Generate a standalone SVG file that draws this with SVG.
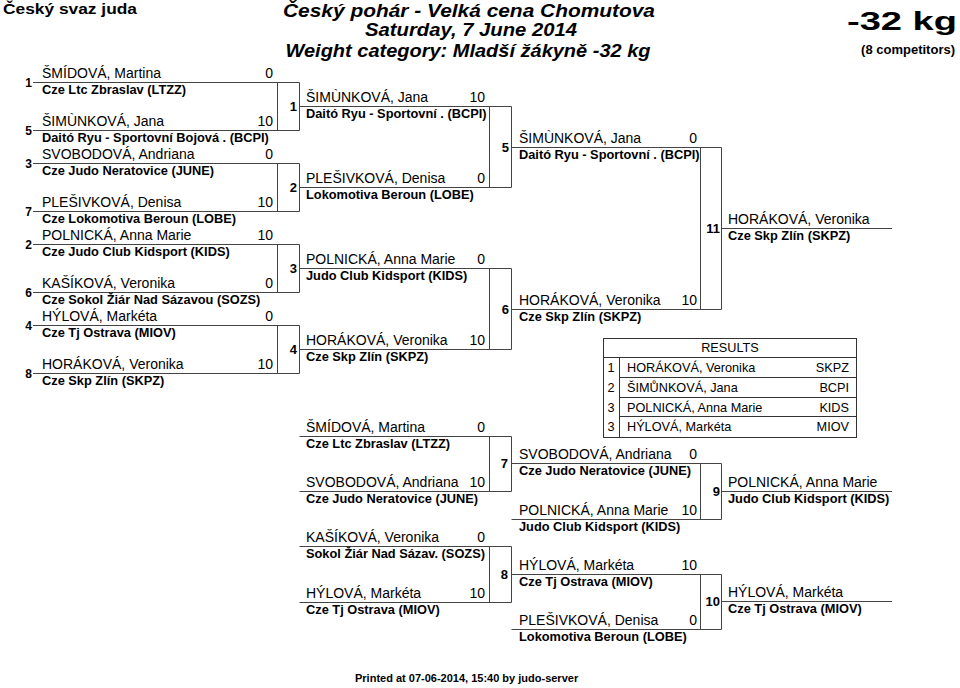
<svg xmlns="http://www.w3.org/2000/svg" width="960" height="688" viewBox="0 0 960 688">
<style>
text{font-family:"Liberation Sans",Arial,sans-serif;fill:#000}
.nm{font-size:14px}
.sc{font-size:14px;text-anchor:end}
.cl{font-size:12.8px;font-weight:bold}
.sd{font-size:12px;font-weight:bold;text-anchor:end}
.mn{font-size:13px;font-weight:bold;text-anchor:end}
.hd{font-weight:bold;font-style:italic}
.rs{font-size:12.7px}
.ln{stroke:#444;stroke-width:1;fill:none}
.tb{stroke:#333;stroke-width:1;fill:none}
</style>
<rect width="960" height="688" fill="#fff"/>
<g id="header">
<text x="3" y="14" font-size="15" font-weight="bold" textLength="134" lengthAdjust="spacingAndGlyphs">Český svaz juda</text>
<text class="hd" x="469" y="17" font-size="19" text-anchor="middle" textLength="372" lengthAdjust="spacingAndGlyphs">Český pohár - Velká cena Chomutova</text>
<text class="hd" x="471" y="36" font-size="19" text-anchor="middle" textLength="212" lengthAdjust="spacingAndGlyphs">Saturday, 7 June 2014</text>
<text class="hd" x="468" y="57" font-size="19" text-anchor="middle" textLength="365" lengthAdjust="spacingAndGlyphs">Weight category: Mladší žákyně -32 kg</text>
<text x="847" y="30" font-size="26" font-weight="bold" textLength="110" lengthAdjust="spacingAndGlyphs">-32 kg</text>
<text x="955" y="54" font-size="13" font-weight="bold" text-anchor="end">(8 competitors)</text>
</g>
<g id="connectors">
<path class="ln" d="M33 82.5H299.5M33 130.5H299.5M33 163.5H299.5M33 211.5H299.5M33 244.5H299.5M33 292.5H299.5M33 325.5H299.5M33 373.5H299.5"/>
<path class="ln" d="M277.5 82.5V130.5M299.5 82.5V130.5M277.5 163.5V211.5M299.5 163.5V211.5M277.5 244.5V292.5M299.5 244.5V292.5M277.5 325.5V373.5M299.5 325.5V373.5"/>
<path class="ln" d="M299.5 106.5H511.5M299.5 187.5H511.5M299.5 268.5H511.5M299.5 349.5H511.5"/>
<path class="ln" d="M489.5 106.5V187.5M511.5 106.5V187.5M489.5 268.5V349.5M511.5 268.5V349.5"/>
<path class="ln" d="M511.5 147.5H721.5M511.5 309.5H721.5M700.5 147.5V309.5M721.5 147.5V309.5M721.5 228.5H892"/>
<path class="ln" d="M299.5 436.5H511.5M299.5 491.5H511.5M299.5 546.5H511.5M299.5 602.5H511.5"/>
<path class="ln" d="M489.5 436.5V491.5M511.5 436.5V491.5M489.5 546.5V602.5M511.5 546.5V602.5"/>
<path class="ln" d="M511.5 463.5H721.5M511.5 519.5H721.5M511.5 574.5H721.5M511.5 629.5H721.5"/>
<path class="ln" d="M700.5 463.5V519.5M721.5 463.5V519.5M700.5 574.5V629.5M721.5 574.5V629.5M721.5 491.5H892M721.5 601.5H892"/>
</g>
<g id="r1-1"><text class="sd" x="32" y="86.5">1</text><text class="nm" x="42" y="78">ŠMÍDOVÁ, Martina</text><text class="sc" x="273" y="78">0</text><text class="cl" x="42" y="94">Cze Ltc Zbraslav (LTZZ)</text></g>
<g id="r1-2"><text class="sd" x="32" y="134.5">5</text><text class="nm" x="42" y="126">ŠIMÙNKOVÁ, Jana</text><text class="sc" x="273" y="126">10</text><text class="cl" x="42" y="142">Daitó Ryu - Sportovní Bojová . (BCPI)</text></g>
<g id="r1-3"><text class="sd" x="32" y="167.5">3</text><text class="nm" x="42" y="159">SVOBODOVÁ, Andriana</text><text class="sc" x="273" y="159">0</text><text class="cl" x="42" y="175">Cze Judo Neratovice (JUNE)</text></g>
<g id="r1-4"><text class="sd" x="32" y="215.5">7</text><text class="nm" x="42" y="207">PLEŠIVKOVÁ, Denisa</text><text class="sc" x="273" y="207">10</text><text class="cl" x="42" y="223">Cze Lokomotiva Beroun (LOBE)</text></g>
<g id="r1-5"><text class="sd" x="32" y="248.5">2</text><text class="nm" x="42" y="240">POLNICKÁ, Anna Marie</text><text class="sc" x="273" y="240">10</text><text class="cl" x="42" y="256">Cze Judo Club Kidsport (KIDS)</text></g>
<g id="r1-6"><text class="sd" x="32" y="296.5">6</text><text class="nm" x="42" y="288">KAŠÍKOVÁ, Veronika</text><text class="sc" x="273" y="288">0</text><text class="cl" x="42" y="304">Cze Sokol Žiár Nad Sázavou (SOZS)</text></g>
<g id="r1-7"><text class="sd" x="32" y="329.5">4</text><text class="nm" x="42" y="321">HÝLOVÁ, Markéta</text><text class="sc" x="273" y="321">0</text><text class="cl" x="42" y="337">Cze Tj Ostrava (MIOV)</text></g>
<g id="r1-8"><text class="sd" x="32" y="377.5">8</text><text class="nm" x="42" y="369">HORÁKOVÁ, Veronika</text><text class="sc" x="273" y="369">10</text><text class="cl" x="42" y="385">Cze Skp Zlín (SKPZ)</text></g>
<g id="m1"><text class="mn" x="297" y="111">1</text></g>
<g id="m2"><text class="mn" x="297" y="192">2</text></g>
<g id="m3"><text class="mn" x="297" y="273">3</text></g>
<g id="m4"><text class="mn" x="297" y="354">4</text></g>
<g id="r2-1"><text class="nm" x="306" y="102">ŠIMÙNKOVÁ, Jana</text><text class="sc" x="485" y="102">10</text><text class="cl" x="306" y="118">Daitó Ryu - Sportovní . (BCPI)</text></g>
<g id="r2-2"><text class="nm" x="306" y="183">PLEŠIVKOVÁ, Denisa</text><text class="sc" x="485" y="183">0</text><text class="cl" x="306" y="199">Lokomotiva Beroun (LOBE)</text></g>
<g id="r2-3"><text class="nm" x="306" y="264">POLNICKÁ, Anna Marie</text><text class="sc" x="485" y="264">0</text><text class="cl" x="306" y="280">Judo Club Kidsport (KIDS)</text></g>
<g id="r2-4"><text class="nm" x="306" y="345">HORÁKOVÁ, Veronika</text><text class="sc" x="485" y="345">10</text><text class="cl" x="306" y="361">Cze Skp Zlín (SKPZ)</text></g>
<g id="m5"><text class="mn" x="509" y="152">5</text></g>
<g id="m6"><text class="mn" x="509" y="314">6</text></g>
<g id="r3-1"><text class="nm" x="519" y="143">ŠIMÙNKOVÁ, Jana</text><text class="sc" x="697" y="143">0</text><text class="cl" x="519" y="159">Daitó Ryu - Sportovní . (BCPI)</text></g>
<g id="r3-2"><text class="nm" x="519" y="305">HORÁKOVÁ, Veronika</text><text class="sc" x="697" y="305">10</text><text class="cl" x="519" y="321">Cze Skp Zlín (SKPZ)</text></g>
<g id="m11"><text class="mn" x="720" y="233">11</text></g>
<g id="final"><text class="nm" x="728" y="224">HORÁKOVÁ, Veronika</text><text class="cl" x="728" y="240">Cze Skp Zlín (SKPZ)</text></g>
<g id="results">
<rect class="tb" x="603.5" y="338.5" width="253" height="99"/>
<path class="tb" d="M603.5 357.5H856.5M619.5 357.5V437.5M619.5 377.5H856.5M619.5 397.5H856.5M619.5 416.5H856.5"/>
<text class="rs" x="730" y="352" text-anchor="middle">RESULTS</text>
<text class="rs" x="611" y="372" text-anchor="middle">1</text><text class="rs" x="627" y="372">HORÁKOVÁ, Veronika</text><text class="rs" x="849" y="372" text-anchor="end">SKPZ</text>
<text class="rs" x="611" y="392" text-anchor="middle">2</text><text class="rs" x="627" y="392">ŠIMŮNKOVÁ, Jana</text><text class="rs" x="849" y="392" text-anchor="end">BCPI</text>
<text class="rs" x="611" y="412" text-anchor="middle">3</text><text class="rs" x="627" y="412">POLNICKÁ, Anna Marie</text><text class="rs" x="849" y="412" text-anchor="end">KIDS</text>
<text class="rs" x="611" y="431" text-anchor="middle">3</text><text class="rs" x="627" y="431">HÝLOVÁ, Markéta</text><text class="rs" x="849" y="431" text-anchor="end">MIOV</text>
</g>
<g id="rp1-1"><text class="nm" x="306" y="432">ŠMÍDOVÁ, Martina</text><text class="sc" x="485" y="432">0</text><text class="cl" x="306" y="448">Cze Ltc Zbraslav (LTZZ)</text></g>
<g id="rp1-2"><text class="nm" x="306" y="487">SVOBODOVÁ, Andriana</text><text class="sc" x="485" y="487">10</text><text class="cl" x="306" y="503">Cze Judo Neratovice (JUNE)</text></g>
<g id="rp1-3"><text class="nm" x="306" y="542">KAŠÍKOVÁ, Veronika</text><text class="sc" x="485" y="542">0</text><text class="cl" x="306" y="558">Sokol Žiár Nad Sázav. (SOZS)</text></g>
<g id="rp1-4"><text class="nm" x="306" y="598">HÝLOVÁ, Markéta</text><text class="sc" x="485" y="598">10</text><text class="cl" x="306" y="614">Cze Tj Ostrava (MIOV)</text></g>
<g id="m7"><text class="mn" x="508" y="468">7</text></g>
<g id="m8"><text class="mn" x="508" y="579">8</text></g>
<g id="rp2-1"><text class="nm" x="519" y="459">SVOBODOVÁ, Andriana</text><text class="sc" x="697" y="459">0</text><text class="cl" x="519" y="475">Cze Judo Neratovice (JUNE)</text></g>
<g id="rp2-2"><text class="nm" x="519" y="515">POLNICKÁ, Anna Marie</text><text class="sc" x="697" y="515">10</text><text class="cl" x="519" y="531">Judo Club Kidsport (KIDS)</text></g>
<g id="rp2-3"><text class="nm" x="519" y="570">HÝLOVÁ, Markéta</text><text class="sc" x="697" y="570">10</text><text class="cl" x="519" y="586">Cze Tj Ostrava (MIOV)</text></g>
<g id="rp2-4"><text class="nm" x="519" y="625">PLEŠIVKOVÁ, Denisa</text><text class="sc" x="697" y="625">0</text><text class="cl" x="519" y="641">Lokomotiva Beroun (LOBE)</text></g>
<g id="m9"><text class="mn" x="720" y="496">9</text></g>
<g id="m10"><text class="mn" x="720" y="606">10</text></g>
<g id="rp-out1"><text class="nm" x="728" y="487">POLNICKÁ, Anna Marie</text><text class="cl" x="728" y="503">Judo Club Kidsport (KIDS)</text></g>
<g id="rp-out2"><text class="nm" x="728" y="597">HÝLOVÁ, Markéta</text><text class="cl" x="728" y="613">Cze Tj Ostrava (MIOV)</text></g>
<text x="355" y="682" font-size="11" font-weight="bold">Printed at 07-06-2014, 15:40 by judo-server</text>
</svg>
